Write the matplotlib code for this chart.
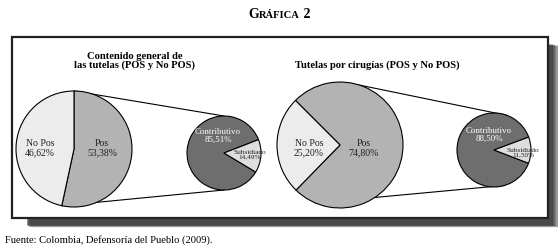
import numpy as np
import matplotlib
matplotlib.use('Agg')
import matplotlib.pyplot as plt
from matplotlib.patches import Rectangle

# data
panel_titles = ['Contenido general de\nlas tutelas (POS y No POS)',
                'Tutelas por cirugías (POS y No POS)']
main_labels = ['Pos', 'No Pos']
main_left = [53.38, 46.62]
main_right = [74.80, 25.20]
sub_labels = ['Contributivo', 'Subsidiado']
sub_left = [85.51, 14.49]
sub_right = [88.50, 11.50]
fuente = 'Fuente: Colombia, Defensoría del Pueblo (2009).'

SERIF = ['Liberation Serif', 'DejaVu Serif']
W, H = 558, 247

fig = plt.figure(figsize=(W / 100, H / 100), dpi=100)
ax = fig.add_axes([0, 0, 1, 1])
ax.set_axis_off()


def pct(v):
    return f'{v:.2f}'.replace('.', ',') + '%'


# ── box + shadow ─────────────────────────────────────────────
bx0, by0, bx1, by1 = 12, 29, 548, 210
for k, a in zip(range(9, 0, -1), np.linspace(0.05, 0.35, 9)):
    ax.add_patch(Rectangle((bx0 + 14 + k * 0.5, by0 - 8 - k * 0.3 + 1),
                           bx1 - bx0 - 10 + k * 0.6, by1 - by0,
                           facecolor='#303030', edgecolor='none', alpha=a, zorder=1))
ax.add_patch(Rectangle((bx0, by0), bx1 - bx0, by1 - by0, facecolor='white',
                       edgecolor='#222222', linewidth=1.6, zorder=2))

wp = dict(edgecolor='black', linewidth=0.8, zorder=4)
main_cols = ['#b3b3b3', '#ececec']
sub_cols = ['#6e6e6e', '#dedede']

panels = [
    dict(vals=main_left, sub=sub_left, c1=(74, 98), r1=58, st1=90,
         c2=(224, 94), r2=37, st2=-31, a1=(90, -102), a2=(90, -90),
         title_xy=(135, 186), lab=[(102, 99), (40, 99)],
         slab=[(218, 111), (250, 92)]),
    dict(vals=main_right, sub=sub_right, c1=(340, 102), r1=63, st1=135,
         c2=(494, 97), r2=37, st2=-21, a1=(72, -113), a2=(69, -73),
         title_xy=(377, 182), lab=[(364, 99), (309, 99)],
         slab=[(489, 112), (523, 94)]),
]

for i, p in enumerate(panels):
    ax.pie(p['vals'], colors=main_cols, startangle=p['st1'], counterclock=False,
           center=p['c1'], radius=p['r1'], wedgeprops=wp, frame=True)
    ax.pie(p['sub'], colors=sub_cols, startangle=p['st2'], counterclock=False,
           center=p['c2'], radius=p['r2'], wedgeprops=wp, frame=True)
    # connector lines
    for a, b in zip(p['a1'], p['a2']):
        x0 = p['c1'][0] + p['r1'] * np.cos(np.radians(a))
        y0 = p['c1'][1] + p['r1'] * np.sin(np.radians(a))
        x1 = p['c2'][0] + p['r2'] * np.cos(np.radians(b))
        y1 = p['c2'][1] + p['r2'] * np.sin(np.radians(b))
        ax.plot([x0, x1], [y0, y1], color='black', lw=0.8, zorder=3)
    ax.text(*p['title_xy'], panel_titles[i],
            ha='center', va='center', fontsize=7.6, fontweight='bold',
            family=SERIF, linespacing=0.95, zorder=5)
    for (x, y), lab, v in zip(p['lab'], main_labels, p['vals']):
        ax.text(x, y, f'{lab}\n{pct(v)}', ha='center', va='center', fontsize=7,
                family=SERIF, color='#222222', linespacing=1.0, zorder=5)
    (x, y) = p['slab'][0]
    ax.text(x, y, f'{sub_labels[0]}\n{pct(p["sub"][0])}', ha='center', va='center',
            fontsize=6.4, family=SERIF, color='white', linespacing=0.9, zorder=5)
    (x, y) = p['slab'][1]
    ax.text(x, y, f'{sub_labels[1]}\n{pct(p["sub"][1])}', ha='center', va='center',
            fontsize=5.2, family=SERIF, color='#222222', linespacing=0.9, zorder=5)

ax.set_xlim(0, W)
ax.set_ylim(0, H)
ax.set_aspect('auto')

# ── heading in small caps ───────────────────────────────────
parts = [('G', 10), ('RÁFICA', 7.6), (' 2', 10)]
fig.canvas.draw()
rend = fig.canvas.get_renderer()
texts = [ax.text(0, 0, s, fontsize=fs, fontweight='bold', family=SERIF)
         for s, fs in parts]
widths = [t.get_window_extent(rend).width for t in texts]
xpos = W / 2 - sum(widths) / 2
for t, w in zip(texts, widths):
    t.set_position((xpos, 229))
    t.set_va('baseline')
    xpos += w

ax.text(5, 7, fuente, fontsize=7.6, family=SERIF, va='center', ha='left')

fig.savefig('out.png', dpi=100, facecolor='white')
